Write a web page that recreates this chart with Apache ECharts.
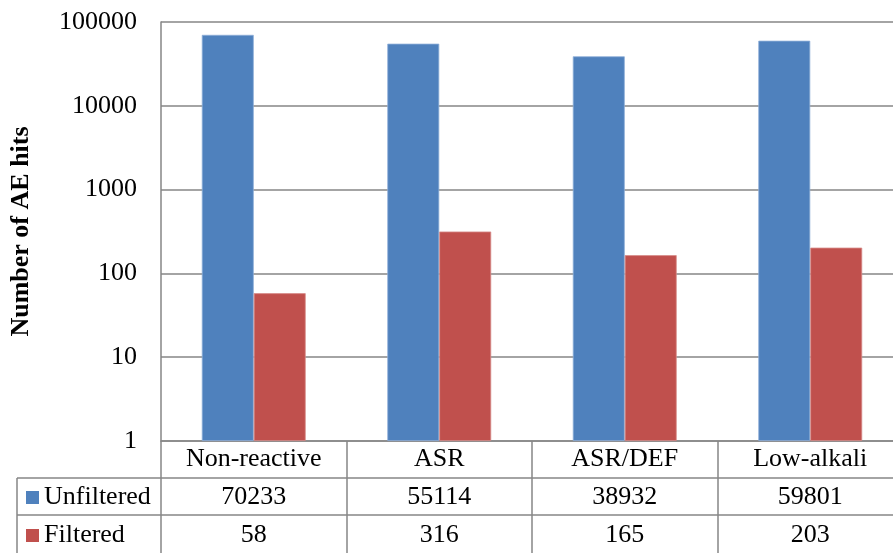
<!DOCTYPE html>
<html>
<head>
<meta charset="utf-8">
<script src="https://cdn.jsdelivr.net/npm/echarts@6/dist/echarts.min.js"></script>
<style>html,body{margin:0;padding:0;background:#fff;}#c{width:893px;height:553px;}</style>
</head>
<body>
<div id="c"></div>
<script>
const categories = ['Non-reactive', 'ASR', 'ASR/DEF', 'Low-alkali'];
const seriesNames = ['Unfiltered', 'Filtered'];
const unfiltered = [70233, 55114, 38932, 59801];
const filtered = [58, 316, 165, 203];
const yTicks = [1, 10, 100, 1000, 10000, 100000];
const colors = ['#4F81BD', '#C0504D'];

const FONT = '"Liberation Serif", "Times New Roman", serif';
const FS = 26;
const LINE = '#868686';
const rowY = [497, 535];

const chart = echarts.init(document.getElementById('c'), null, {renderer: 'canvas'});
const option = {
  animation: false,
  backgroundColor: '#fff',
  grid: {left: 161, top: 22, bottom: 112, width: 742, containLabel: false, outerBoundsMode: 'none'},
  xAxis: {
    type: 'category', data: categories,
    axisLine: {show: true, lineStyle: {color: LINE, width: 1.5}},
    axisTick: {show: true, interval: 0, length: 112, lineStyle: {color: LINE, width: 1.5}},
    axisLabel: {fontFamily: FONT, fontSize: FS, color: '#000', margin: 5, interval: 0},
    splitLine: {show: false}
  },
  yAxis: {
    type: 'log', logBase: 10, min: yTicks[0], max: yTicks[yTicks.length - 1],
    name: 'Number of AE hits', nameLocation: 'middle', nameGap: 127, nameRotate: 90,
    nameTextStyle: {fontFamily: FONT, fontSize: 26, fontWeight: 'bold', color: '#000'},
    axisLine: {show: true, lineStyle: {color: LINE, width: 1.5}},
    axisTick: {show: false},
    axisLabel: {fontFamily: FONT, fontSize: FS, color: '#000', margin: 24, formatter: v => String(Math.round(v))},
    splitLine: {show: true, lineStyle: {color: LINE, width: 1.5}}
  },
  series: [
    {name: seriesNames[0], type: 'bar', data: unfiltered, barGap: '0%', barCategoryGap: '44%',
     itemStyle: {color: colors[0], borderColor: '#8eaed8', borderWidth: 0.8}},
    {name: seriesNames[1], type: 'bar', data: filtered, barGap: '0%', barCategoryGap: '44%',
     itemStyle: {color: colors[1], borderColor: '#d78b89', borderWidth: 0.8}}
  ]
};
chart.setOption(option);

// Data table below the chart (with legend keys)
const rows = [unfiltered, filtered];
const graphics = [];
const lineStyle = {stroke: LINE, lineWidth: 1.5};
graphics.push({type: 'line', shape: {x1: 17, y1: 478, x2: 893, y2: 478}, style: lineStyle, silent: true});
graphics.push({type: 'line', shape: {x1: 17, y1: 515, x2: 893, y2: 515}, style: lineStyle, silent: true});
graphics.push({type: 'line', shape: {x1: 17, y1: 478, x2: 17, y2: 553}, style: lineStyle, silent: true});
seriesNames.forEach((name, r) => {
  graphics.push({type: 'rect', shape: {x: 26, y: rowY[r] - 6, width: 13, height: 13}, style: {fill: colors[r]}, silent: true});
  graphics.push({type: 'text', x: 44, y: rowY[r], silent: true,
    style: {text: name, fontFamily: FONT, fontSize: FS, fill: '#000', align: 'left', verticalAlign: 'middle'}});
});
rows.forEach((vals, r) => {
  vals.forEach((v, i) => {
    const x = chart.convertToPixel({xAxisIndex: 0}, i);
    graphics.push({
      type: 'text', x: x, y: rowY[r], silent: true,
      style: {text: String(v), fontFamily: FONT, fontSize: FS, fill: '#000', align: 'center', verticalAlign: 'middle'}
    });
  });
});
chart.setOption({graphic: graphics});
</script>
</body>
</html>
